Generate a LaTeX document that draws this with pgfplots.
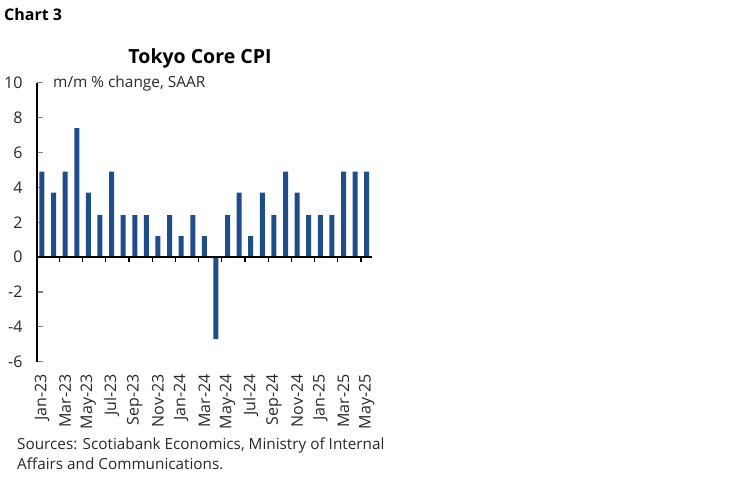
\documentclass[border=0pt]{standalone}
\usepackage{fontspec}
\setmainfont{Open Sans}
\usepackage{pgfplots}
\pgfplotsset{compat=1.18}
\definecolor{scotiablue}{RGB}{30,77,137}
\definecolor{labelgray}{RGB}{40,40,40}

\begin{document}
\begin{tikzpicture}
\path (0,0) rectangle (748pt,-483pt);
\node[anchor=base west, font=\fontsize{16}{18}\selectfont\bfseries, inner sep=0pt] at (4pt,-20.7pt) {Chart 3};
\node[anchor=base, font=\fontsize{19.5}{22}\selectfont\bfseries, inner sep=0pt] at (200pt,-63pt) {Tokyo Core CPI};
\node[anchor=base west, font=\fontsize{15.4}{18}\selectfont, text=labelgray, inner sep=0pt] at (53pt,-87pt) {m/m \% change, SAAR};
\node[anchor=base west, font=\fontsize{15.3}{18}\selectfont, text=labelgray, inner sep=0pt] at (17pt,-449pt) {Sources: Scotiabank Economics, Ministry of Internal};
\node[anchor=base west, font=\fontsize{15.3}{18}\selectfont, text=labelgray, inner sep=0pt] at (17pt,-469pt) {Affairs and Communications.};
\begin{axis}[
    at={(37pt,-361.7pt)}, anchor=south west,
    scale only axis,
    width=334.7pt, height=279pt,
    xmin=-0.43, xmax=28.43,
    ymin=-6, ymax=10,
    axis y line=left, axis x line=bottom,
    axis line style={-},
    x axis line style={draw=none},
    y axis line style={line width=1.2pt},
    ytick={-6,-4,...,10},
    yticklabels={-6,-4,-2,0,2,4,6,8,10},
    ytick style={line width=1.2pt},
    tick align=inside,
    major tick length=6pt,
    yticklabel style={font=\fontsize{16}{18}\selectfont, text=labelgray, xshift=-11pt},
    xtick={0,2,...,28},
    xticklabels={Jan-23,Mar-23,May-23,Jul-23,Sep-23,Nov-23,Jan-24,Mar-24,May-24,Jul-24,Sep-24,Nov-24,Jan-25,Mar-25,May-25},
    xtick style={draw=none},
    xticklabel style={font=\fontsize{16}{18}\selectfont, text=labelgray, rotate=90, anchor=east},
    xticklabel shift=9pt,
    clip=false,
]
\addplot[ybar, bar width=5pt, fill=scotiablue, draw=none] coordinates {
    (0,4.9) (1,3.7) (2,4.9) (3,7.4) (4,3.7) (5,2.4) (6,4.9) (7,2.4) (8,2.4) (9,2.4)
    (10,1.2) (11,2.4) (12,1.2) (13,2.4) (14,1.2) (15,-4.7) (16,2.4) (17,3.7) (18,1.2) (19,3.7)
    (20,2.4) (21,4.9) (22,3.7) (23,2.4) (24,2.4) (25,2.4) (26,4.9) (27,4.9) (28,4.9)
};
\draw[line width=1.2pt] (axis cs:-0.43,0) -- (axis cs:28.43,0);
\pgfplotsinvokeforeach{1.5,3.5,5.5,7.5,9.5,11.5,13.5,15.5,17.5,19.5,21.5,23.5,25.5,27.5}{
    \draw[line width=1.2pt] (axis cs:#1,0) -- ([yshift=-5pt]axis cs:#1,0);
}
\end{axis}
\end{tikzpicture}
\end{document}
